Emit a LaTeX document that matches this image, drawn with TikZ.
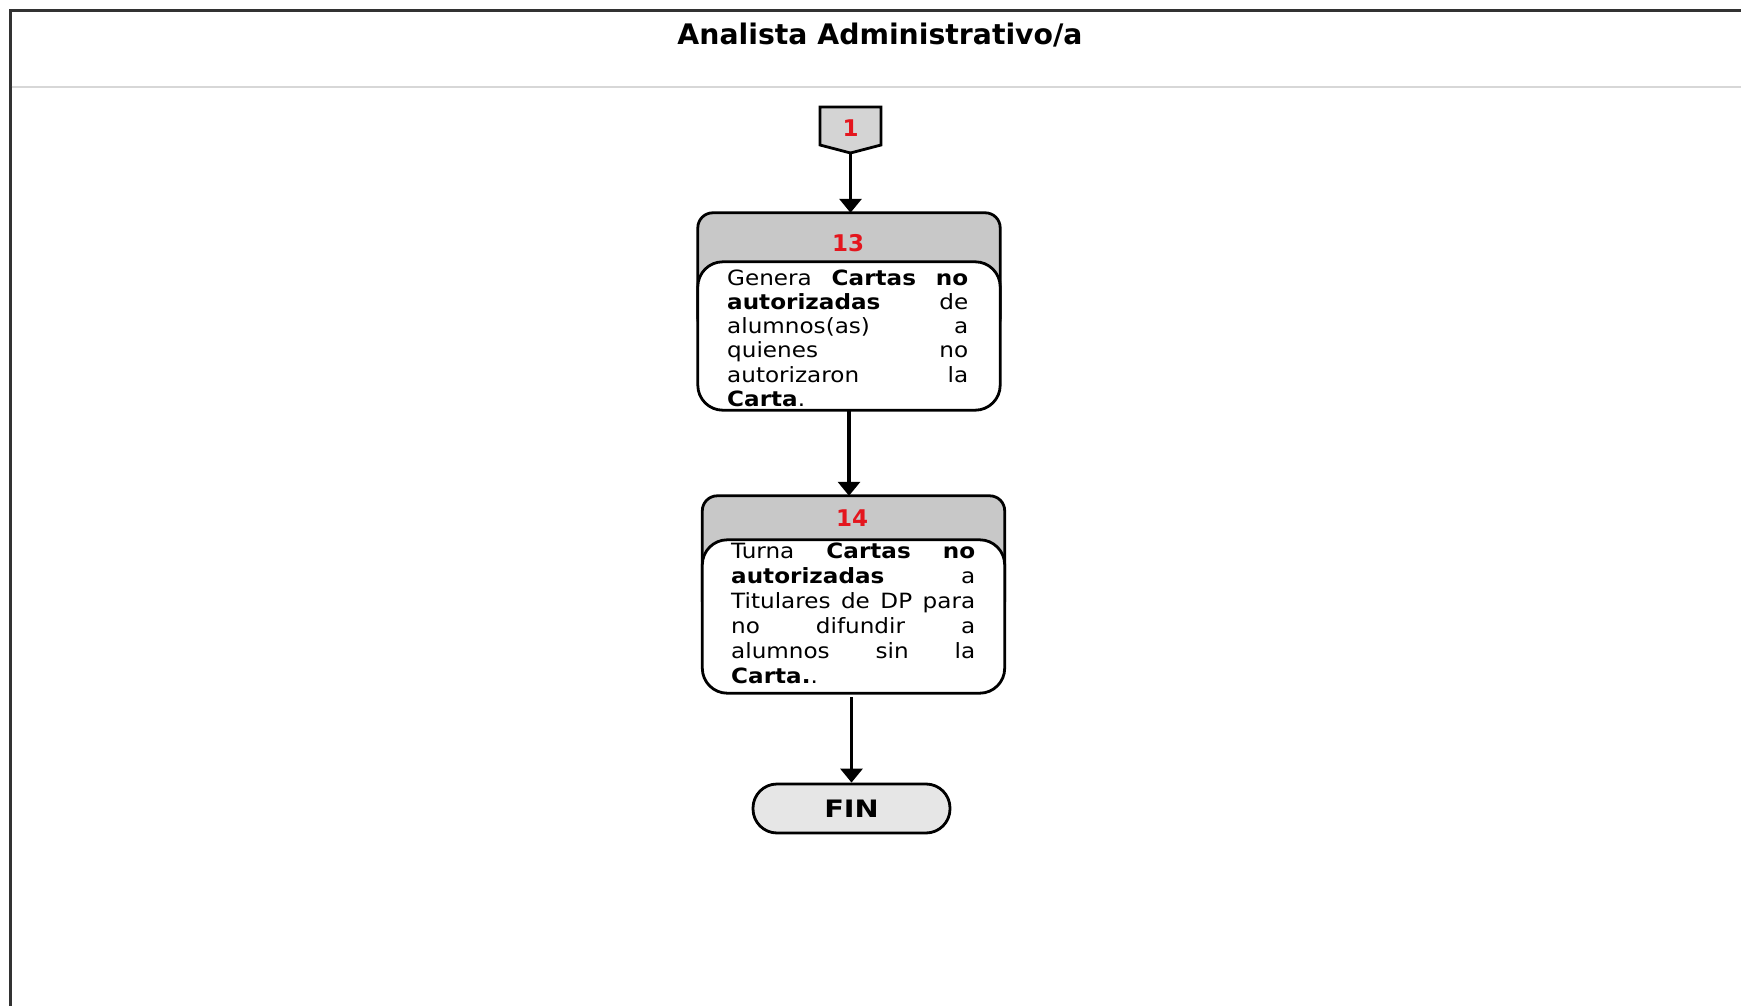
\documentclass[tikz,border=0pt]{standalone}
\usepackage{fontspec}
\setmainfont{DejaVu Sans}
\newfontfamily\bodyfam[FakeStretch=1.1]{DejaVu Sans}
\newfontfamily\finfam[FakeStretch=1.2]{DejaVu Sans}
\usetikzlibrary{arrows.meta}
\definecolor{hdrgray}{RGB}{200,200,200}
\definecolor{congray}{RGB}{212,212,212}
\definecolor{fingray}{RGB}{230,230,230}
\definecolor{numred}{RGB}{228,22,30}
\definecolor{framegray}{RGB}{50,50,50}
\definecolor{sepgray}{RGB}{215,215,215}
\newcommand{\bodyfont}{\bodyfam\fontsize{21}{24}\selectfont}
\begin{document}
\begin{tikzpicture}[x=1pt,y=-1pt,
  outline/.style={draw=black,line width=2.8pt},
  flow/.style={line width=3.2pt,-{Triangle[width=22pt,length=14pt]}},
  num/.style={font=\fontsize{23}{26}\selectfont\bfseries,text=numred,inner sep=0},
  txt/.style={font=\bodyfont,anchor=base west,inner sep=0},
  frame/.style={inner sep=0,minimum width=302pt,minimum height=197pt}]
\useasboundingbox (0,0) rectangle (1741,1006);
\fill[white] (0,0) rectangle (1741,1006);
% frame
\draw[line width=3pt,framegray] (10,1006) -- (10,11) -- (1741,11);
\draw[line width=2pt,sepgray] (11.5,87) -- (1741,87);
\node[font=\fontsize{28.3}{30}\selectfont\bfseries,anchor=base,inner sep=0] (title) at (880,45) {Analista Administrativo/a};
% connector 1
\draw[outline,fill=congray] (820,107) -- (881,107) -- (881,145) -- (850.5,153) -- (820,145) -- cycle;
\node[num] (c1) at (850.5,128) {1};
\coordinate (c1tip) at (850.5,153);
% box 13
\node[frame] (b13) at (849,311.5) {};
\draw[outline,fill=hdrgray,rounded corners=15pt] (b13.north west) rectangle ([yshift=-120pt]b13.north east);
\draw[outline,fill=white,rounded corners=25pt] ([yshift=-49pt]b13.north west) rectangle (b13.south east);
\node[num] (n13) at (848,243) {13};
\node[txt] (t13a) at (727,285) {\hbox to 241pt{Genera\hfill\textbf{Cartas}\hfill\textbf{no}}};
\node[txt] (t13b) at (727,309) {\hbox to 241pt{\textbf{autorizadas}\hfill de}};
\node[txt] (t13c) at (727,333.5) {\hbox to 241pt{alumnos(as)\hfill a}};
\node[txt] (t13d) at (727,357.5) {\hbox to 241pt{quienes\hfill no}};
\node[txt] (t13e) at (727,382) {\hbox to 241pt{autorizaron\hfill la}};
\node[txt] (t13f) at (727,406) {\hbox to 241pt{\textbf{Carta}.\hfill}};
% box 14
\node[frame] (b14) at (853.5,594.5) {};
\draw[outline,fill=hdrgray,rounded corners=15pt] (b14.north west) rectangle ([yshift=-120pt]b14.north east);
\draw[outline,fill=white,rounded corners=25pt] ([yshift=-44pt]b14.north west) rectangle (b14.south east);
\node[num] (n14) at (852,518) {14};
\node[txt] (t14a) at (731,558) {\hbox to 244pt{Turna\hfill\textbf{Cartas}\hfill\textbf{no}}};
\node[txt] (t14b) at (731,583) {\hbox to 244pt{\textbf{autorizadas}\hfill a}};
\node[txt] (t14c) at (731,608) {\hbox to 244pt{Titulares\hfill de\hfill DP\hfill para}};
\node[txt] (t14d) at (731,633) {\hbox to 244pt{no\hfill difundir\hfill a}};
\node[txt] (t14e) at (731,658) {\hbox to 244pt{alumnos\hfill sin\hfill la}};
\node[txt] (t14f) at (731,683) {\hbox to 244pt{\textbf{Carta.}.\hfill}};
% FIN
\node[outline,fill=fingray,rounded corners=24pt,minimum width=197pt,minimum height=49pt,inner sep=0,font=\finfam\fontsize{24}{26}\selectfont\bfseries] (fin) at (851.5,808.5) {FIN};
% connectors
\draw[flow] (c1tip) -- (c1tip |- b13.north);
\draw[flow] (b13.south) -- (b13.south |- b14.north);
\draw[flow] ([yshift=-4pt]b14.south -| fin.north) -- (fin.north);
\end{tikzpicture}
\end{document}
